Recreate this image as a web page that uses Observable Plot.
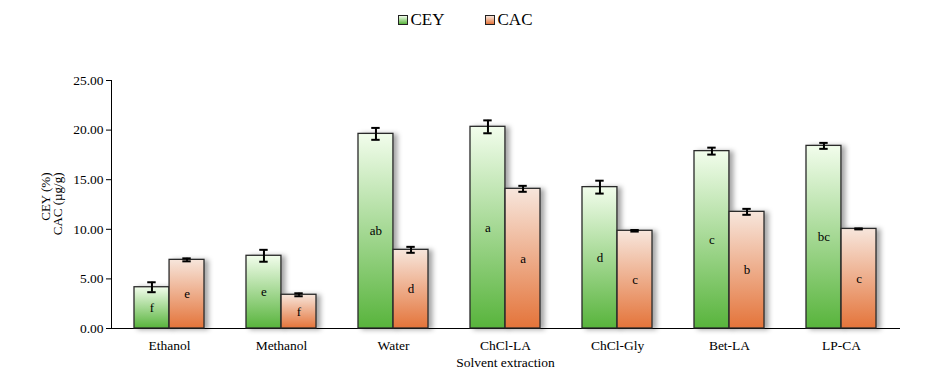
<!DOCTYPE html>
<html>
<head>
<meta charset="utf-8">
<script src="https://cdn.jsdelivr.net/npm/d3@7"></script>
<script src="https://cdn.jsdelivr.net/npm/@observablehq/plot@0.6"></script>
<style>
  html, body { margin: 0; padding: 0; background: #fff; width: 930px; height: 380px; overflow: hidden; }
  #legend { height: 40px; display: flex; justify-content: center; align-items: center; gap: 40px;
    font-family: "Liberation Serif", "Times New Roman", serif; font-size: 17px; color: #000; padding-left: 0px; box-sizing: border-box; }
  #legend .item { display: flex; align-items: center; gap: 3px; }
  #legend .sw { width: 8px; height: 8px; border: 1px solid #222; }
  #chart svg, #chart svg text { font-family: "Liberation Serif", "Times New Roman", serif !important; }
  #chart svg g[aria-label="bar"] rect { filter: drop-shadow(4px 1px 2.5px rgba(0,0,0,0.35)); }
</style>
</head>
<body>
<div id="legend"></div>
<div id="chart"></div>
<script>
const categories = ["Ethanol", "Methanol", "Water", "ChCl-LA", "ChCl-Gly", "Bet-LA", "LP-CA"];
const seriesNames = ["CEY", "CAC"];
const ceyValues = [4.16, 7.33, 19.62, 20.33, 14.25, 17.88, 18.41];
const ceyErrors = [0.50, 0.60, 0.60, 0.65, 0.65, 0.35, 0.30];
const ceyLetters = ["f", "e", "ab", "a", "d", "c", "bc"];
const cacValues = [6.92, 3.40, 7.93, 14.08, 9.85, 11.76, 10.04];
const cacErrors = [0.15, 0.15, 0.30, 0.30, 0.08, 0.30, 0.05];
const cacLetters = ["e", "f", "d", "a", "c", "b", "c"];
const yTicks = [0, 5, 10, 15, 20, 25];

const cey = categories.map((c, i) => ({cat: c, v: ceyValues[i], e: ceyErrors[i], l: ceyLetters[i]}));
const cac = categories.map((c, i) => ({cat: c, v: cacValues[i], e: cacErrors[i], l: cacLetters[i]}));

// legend
const gradCss = {
  CEY: "linear-gradient(#f2fdec, #58b43c)",
  CAC: "linear-gradient(#f7e6dc, #e4743a)"
};
const legend = document.getElementById("legend");
seriesNames.forEach(s => {
  const it = document.createElement("div"); it.className = "item";
  const sw = document.createElement("div"); sw.className = "sw"; sw.style.background = gradCss[s];
  const t = document.createElement("span"); t.textContent = s;
  it.appendChild(sw); it.appendChild(t); legend.appendChild(it);
});

const serif = "Liberation Serif, Times New Roman, serif";
// geometry of grouped bars inside each category band (pixels)
const step = 788 / 7, outer = 21, half = 35.5, cap = 9;
const leftBar = {insetLeft: outer, insetRight: step - outer - half};
const rightBar = {insetLeft: step - outer - half, insetRight: outer};
const cL = outer + half / 2, cR = step - outer - half / 2;
const leftCap = {insetLeft: cL - cap / 2, insetRight: step - cL - cap / 2};
const rightCap = {insetLeft: cR - cap / 2, insetRight: step - cR - cap / 2};
const off = (cR - cL) / 2;
const errStyle = {stroke: "#000", strokeWidth: 2};

const chart = Plot.plot({
  width: 930,
  height: 340,
  marginTop: 40,
  marginBottom: 52,
  marginLeft: 111,
  marginRight: 31,
  style: {fontFamily: serif, fontSize: "13.5px", color: "#000", background: "transparent"},
  x: {domain: categories, padding: 0, label: "Solvent extraction", labelAnchor: "center", labelOffset: 38, tickSize: 0, tickPadding: 12, line: true},
  y: {domain: [0, 25], ticks: yTicks, tickFormat: d => d.toFixed(2), label: null, tickSize: 5, tickPadding: 3, line: true},
  marks: [
    Plot.barY(cey, {x: "cat", y: "v", fill: "url(#gCEY)", stroke: "#2a2a2a", strokeWidth: 1.3, ...leftBar}),
    Plot.barY(cac, {x: "cat", y: "v", fill: "url(#gCAC)", stroke: "#2a2a2a", strokeWidth: 1.3, ...rightBar}),
    Plot.ruleX(cey, {x: "cat", y1: d => d.v - d.e, y2: d => d.v + d.e, dx: -off, ...errStyle}),
    Plot.tickY(cey, {x: "cat", y: d => d.v + d.e, ...leftCap, ...errStyle}),
    Plot.tickY(cey, {x: "cat", y: d => d.v - d.e, ...leftCap, ...errStyle}),
    Plot.ruleX(cac, {x: "cat", y1: d => d.v - d.e, y2: d => d.v + d.e, dx: off, ...errStyle}),
    Plot.tickY(cac, {x: "cat", y: d => d.v + d.e, ...rightCap, ...errStyle}),
    Plot.tickY(cac, {x: "cat", y: d => d.v - d.e, ...rightCap, ...errStyle}),
    Plot.text(cey, {x: "cat", y: d => d.v / 2, text: "l", dx: -off, fontSize: 13, fill: "#000"}),
    Plot.text(cac, {x: "cat", y: d => d.v / 2, text: "l", dx: off, fontSize: 13, fill: "#000"}),
    Plot.text(["CEY (%)\nCAC (µg/g)"], {frameAnchor: "top-left", textAnchor: "end", dx: -70, dy: 92, rotate: -90, fontSize: 13, lineHeight: 0.92, fill: "#000"})
  ]
});
document.getElementById("chart").appendChild(chart);

// gradient definitions referenced by the bar fills
const svg = d3.select(chart);
const defs = svg.insert("defs", ":first-child");
[["gCEY", "#f2fdec", "#58b43c"], ["gCAC", "#f7e6dc", "#e4743a"]].forEach(([id, c0, c1]) => {
  const g = defs.append("linearGradient").attr("id", id).attr("x1", 0).attr("y1", 0).attr("x2", 0).attr("y2", 1);
  g.append("stop").attr("offset", "0%").attr("stop-color", c0);
  g.append("stop").attr("offset", "100%").attr("stop-color", c1);
});
</script>
</body>
</html>
